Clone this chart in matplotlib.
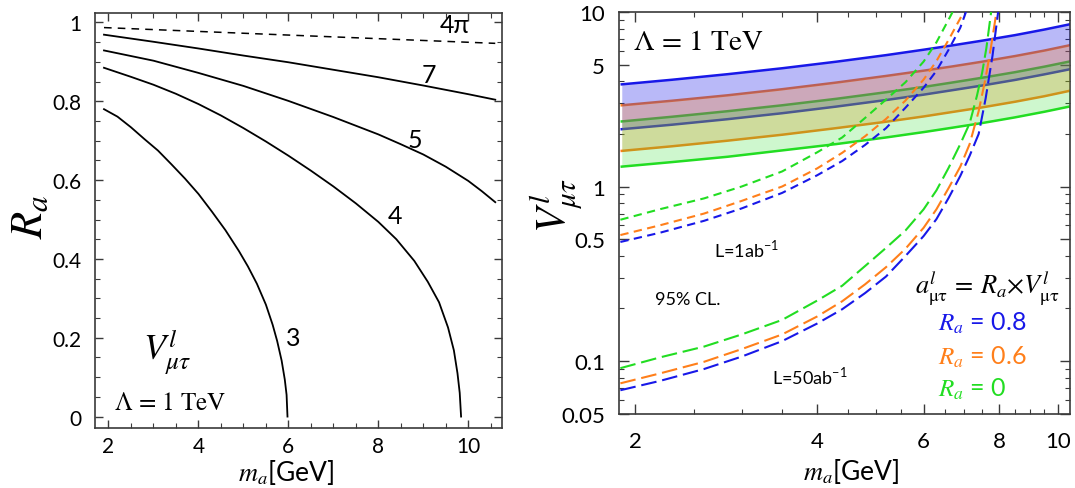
import numpy as np
import matplotlib
matplotlib.use("Agg")
import matplotlib.pyplot as plt
from matplotlib.ticker import FixedLocator, FixedFormatter, NullFormatter

plt.rcParams['font.family'] = ['Lato', 'DejaVu Sans']
plt.rcParams['mathtext.fontset'] = 'stix'

# ---------------- Left panel data (contours of V in (m_a, R_a)) ----------------
c4pi_x = [1.9, 6.0, 10.6]
c4pi_y = [0.987, 0.968, 0.947]
c7_x = [1.9, 3, 4, 5, 6, 7, 8, 9, 10, 10.6]
c7_y = [0.969, 0.951, 0.934, 0.916, 0.899, 0.880, 0.861, 0.840, 0.818, 0.804]
c5_x = [1.9, 3, 4, 5, 6, 7, 8, 8.5, 9, 9.5, 10, 10.3, 10.6]
c5_y = [0.929, 0.903, 0.872, 0.839, 0.801, 0.760, 0.716, 0.691, 0.665, 0.634, 0.598, 0.572, 0.544]
c4_x = [1.9, 2.5, 3.0, 3.5, 4.0, 4.5, 5.0, 5.5, 6.0, 6.5, 7.0, 7.5, 8.0, 8.4, 8.8,
        9.1, 9.35, 9.55, 9.68, 9.76, 9.81, 9.84]
c4_y = [0.885, 0.862, 0.842, 0.819, 0.793, 0.764, 0.732, 0.698, 0.662, 0.624, 0.584, 0.541, 0.494, 0.450, 0.395,
        0.342, 0.290, 0.226, 0.168, 0.110, 0.060, 0.0]
c3_x = [1.9, 2.2, 2.5, 2.8, 3.1, 3.4, 3.7, 4.0, 4.3, 4.6, 4.9, 5.1, 5.3, 5.5, 5.65,
        5.75, 5.85, 5.92, 5.96, 5.98]
c3_y = [0.780, 0.761, 0.734, 0.704, 0.675, 0.640, 0.604, 0.565, 0.520, 0.473, 0.420, 0.381, 0.337, 0.284, 0.233,
        0.192, 0.142, 0.094, 0.055, 0.0]
contour_labels = ["4π", "7", "5", "4", "3"]
label_x = [9.69, 9.13, 8.82, 8.36, 6.11]
label_y = [0.995, 0.869, 0.704, 0.509, 0.201]

# ---------------- Right panel data ----------------
band_x = [1.9, 2.3, 2.84, 3.5, 4.3, 5.2, 6.0, 6.68, 7.5, 8.5, 9.5, 10.45]
blue_hi = [3.85, 4.09, 4.40, 4.76, 5.19, 5.66, 6.08, 6.43, 6.85, 7.37, 7.93, 8.49]
orange_hi = [2.92, 3.10, 3.33, 3.61, 3.94, 4.30, 4.61, 4.87, 5.19, 5.59, 6.01, 6.44]
green_hi = [2.36, 2.51, 2.70, 2.92, 3.18, 3.47, 3.72, 3.94, 4.20, 4.52, 4.86, 5.20]
blue_lo = [2.13, 2.26, 2.43, 2.63, 2.87, 3.13, 3.36, 3.56, 3.79, 4.08, 4.39, 4.69]
orange_lo = [1.60, 1.70, 1.83, 1.98, 2.16, 2.35, 2.52, 2.67, 2.84, 3.06, 3.29, 3.53]
green_lo = [1.30, 1.38, 1.48, 1.61, 1.75, 1.91, 2.05, 2.17, 2.31, 2.49, 2.68, 2.87]

# L = 1 ab^-1 (short dashes)
s_green_x = [1.89, 2.2, 2.6, 3.0, 3.5, 4.0, 4.4, 4.8, 5.2, 5.6, 6.0, 6.3, 6.6, 6.70]
s_green_y = [0.645, 0.742, 0.855, 1.0, 1.22, 1.57, 1.91, 2.47, 3.15, 3.96, 5.2, 6.7, 9.05, 10.0]
s_orange_x = [1.89, 2.2, 2.6, 3.0, 3.5, 4.0, 4.4, 4.8, 5.2, 5.6, 6.0, 6.3, 6.6, 6.9, 6.98]
s_orange_y = [0.527, 0.60, 0.70, 0.827, 1.0, 1.27, 1.56, 1.94, 2.44, 3.11, 4.1, 5.23, 6.93, 9.2, 10.0]
s_blue_x = [1.89, 2.2, 2.6, 3.0, 3.5, 4.0, 4.4, 4.8, 5.2, 5.6, 6.0, 6.3, 6.6, 6.9, 7.05]
s_blue_y = [0.481, 0.544, 0.636, 0.749, 0.919, 1.16, 1.40, 1.73, 2.16, 2.83, 3.68, 4.6, 6.08, 8.13, 10.0]

# L = 50 ab^-1 (long dashes)
l_green_x = [1.89, 2.2, 2.6, 3.0, 3.5, 4.0, 4.4, 4.8, 5.2, 5.6, 6.0, 6.3, 6.6, 6.9, 7.15, 7.35, 7.5, 7.62, 7.76]
l_green_y = [0.091, 0.105, 0.121, 0.142, 0.172, 0.222, 0.270, 0.35, 0.445, 0.56, 0.74, 0.95, 1.28, 1.75, 2.3,
             3.3, 4.5, 6.2, 10.0]
l_orange_x = [1.89, 2.2, 2.6, 3.0, 3.5, 4.0, 4.4, 4.8, 5.2, 5.6, 6.0, 6.3, 6.6, 6.9, 7.15, 7.4, 7.6, 7.75, 7.92]
l_orange_y = [0.0745, 0.085, 0.099, 0.117, 0.142, 0.180, 0.220, 0.275, 0.345, 0.44, 0.58, 0.74, 0.98, 1.30,
              1.75, 2.7, 4.2, 6.2, 10.0]
l_blue_x = [1.89, 2.2, 2.6, 3.0, 3.5, 4.0, 4.4, 4.8, 5.2, 5.6, 6.0, 6.3, 6.6, 6.9, 7.15, 7.4, 7.6, 7.8, 7.97]
l_blue_y = [0.068, 0.077, 0.090, 0.106, 0.130, 0.164, 0.198, 0.245, 0.305, 0.40, 0.52, 0.65, 0.86, 1.15, 1.5,
            2.0, 3.2, 5.6, 10.0]

BLUE = '#1818e8'
ORANGE = '#ff7f1a'
GREEN = '#22dd22'
FRAME = '#3a3a3a'

W, H = 1075, 489
fig = plt.figure(figsize=(W / 100, H / 100), dpi=100)


def px_axes(l, t, r, b):
    return fig.add_axes([l / W, 1 - b / H, (r - l) / W, (b - t) / H])


def ftext(x, y, s, **kw):
    fig.text(x / W, 1 - y / H, s, **kw)


def style_frame(ax):
    for s in ax.spines.values():
        s.set_color(FRAME)
        s.set_linewidth(1.2)
    ax.tick_params(which='both', direction='in', top=True, right=True, color=FRAME)
    ax.tick_params(which='major', length=6, width=1.0)
    ax.tick_params(which='minor', length=3.5, width=0.8)


# ---------------- Left panel ----------------
axL = px_axes(95, 14, 502, 429)
axL.plot(c4pi_x, c4pi_y, color='black', lw=1.1, linestyle=(0, (5, 4)))
for xs, ys in [(c7_x, c7_y), (c5_x, c5_y), (c4_x, c4_y), (c3_x, c3_y)]:
    axL.plot(xs, ys, color='black', lw=1.3)
for t, x, y in zip(contour_labels, label_x, label_y):
    axL.text(x, y, t, fontsize=18, ha='center', va='center')
axL.text(3.3, 0.165, r'$V^{l}_{\mu\tau}$', fontsize=26, ha='center', va='center')
axL.text(3.37, 0.037, r'$\Lambda\,=\,1\ \mathrm{TeV}$', fontsize=18, ha='center', va='center')
axL.set_xlim(1.70, 10.75)
axL.set_ylim(-0.029, 1.024)
axL.xaxis.set_major_locator(FixedLocator([2, 4, 6, 8, 10]))
axL.xaxis.set_minor_locator(FixedLocator(np.arange(2.0, 10.75, 0.5)))
axL.yaxis.set_major_locator(FixedLocator([0, 0.2, 0.4, 0.6, 0.8, 1.0]))
axL.yaxis.set_minor_locator(FixedLocator(np.arange(0, 1.01, 0.05)))
axL.yaxis.set_major_formatter(FixedFormatter(['0', '0.2', '0.4', '0.6', '0.8', '1']))
style_frame(axL)
axL.tick_params(axis='both', which='major', labelsize=15)
axL.tick_params(axis='y', pad=10)
axL.tick_params(axis='x', pad=6)
ftext(30, 217, r'$R_a$', fontsize=32, rotation=90, ha='center', va='center')
ftext(286, 473, r'$m_a$[GeV]', fontsize=19, ha='center', va='center')

# ---------------- Right panel ----------------
axR = px_axes(619, 13, 1070, 415)
axR.set_xscale('log')
axR.set_yscale('log')
for hi, lo, c in [(blue_hi, blue_lo, BLUE), (orange_hi, orange_lo, ORANGE), (green_hi, green_lo, GREEN)]:
    axR.plot(band_x, hi, color=c, lw=1.8, zorder=2)
    axR.plot(band_x, lo, color=c, lw=1.8, zorder=2)
axR.fill_between(band_x, blue_lo, blue_hi, color=BLUE, alpha=0.30, lw=0, zorder=3)
axR.fill_between(band_x, orange_lo, orange_hi, color=ORANGE, alpha=0.28, lw=0, zorder=3)
axR.fill_between(band_x, green_lo, green_hi, color=GREEN, alpha=0.22, lw=0, zorder=3)

short = (0, (4, 2.6))
long_ = (0, (7.5, 2.8))
for xs, ys, c in [(s_green_x, s_green_y, GREEN), (s_orange_x, s_orange_y, ORANGE), (s_blue_x, s_blue_y, BLUE)]:
    axR.plot(xs, ys, color=c, lw=1.5, linestyle=short, zorder=4)
for xs, ys, c in [(l_green_x, l_green_y, GREEN), (l_orange_x, l_orange_y, ORANGE), (l_blue_x, l_blue_y, BLUE)]:
    axR.plot(xs, ys, color=c, lw=1.5, linestyle=long_, zorder=4)

axR.set_xlim(1.88, 10.48)
axR.set_ylim(0.0497, 10.0)
axR.xaxis.set_major_locator(FixedLocator([2, 4, 6, 8, 10]))
axR.xaxis.set_major_formatter(FixedFormatter(['2', '4', '6', '8', '10']))
axR.xaxis.set_minor_locator(FixedLocator([v for v in np.arange(2.0, 10.6, 0.5) if v not in (2, 4, 6, 8, 10)]))
axR.xaxis.set_minor_formatter(NullFormatter())
ymaj = [0.05, 0.1, 0.5, 1, 5, 10]
axR.yaxis.set_major_locator(FixedLocator(ymaj))
axR.yaxis.set_major_formatter(FixedFormatter(['0.05', '0.1', '0.5', '1', '5', '10']))
ymin = [0.06, 0.07, 0.08, 0.09, 0.2, 0.3, 0.4, 0.6, 0.7, 0.8, 0.9, 2, 3, 4, 6, 7, 8, 9]
axR.yaxis.set_minor_locator(FixedLocator(ymin))
axR.yaxis.set_minor_formatter(NullFormatter())
style_frame(axR)
axR.tick_params(axis='both', which='major', labelsize=16, length=7)
axR.tick_params(axis='y', pad=10)
axR.tick_params(axis='x', pad=12)
ftext(556, 205, r'$V^{l}_{\mu\tau}$', fontsize=30, rotation=90, ha='center', va='center')
ftext(851, 472, r'$m_a$[GeV]', fontsize=19, ha='center', va='center')

ftext(698, 42, r'$\Lambda\,=\,1\ \mathrm{TeV}$', fontsize=21, ha='center', va='center')
ftext(747, 250, r'L=1ab$^{\mathregular{-1}}$', fontsize=13, ha='center', va='center')
ftext(688, 300, '95% CL.', fontsize=13, ha='center', va='center')
ftext(810, 377, r'L=50ab$^{\mathregular{-1}}$', fontsize=13, ha='center', va='center')
ftext(987, 288, r'$a^{l}_{\mathrm{\mu\tau}}\,=\,R_a{\times}V^{l}_{\mathrm{\mu\tau}}$', fontsize=19,
      ha='center', va='center')
ftext(938, 323, r'$R_a$ = 0.8', fontsize=18, ha='left', va='center', color=BLUE)
ftext(938, 357, r'$R_a$ = 0.6', fontsize=18, ha='left', va='center', color=ORANGE)
ftext(938, 389, r'$R_a$ = 0', fontsize=18, ha='left', va='center', color=GREEN)

fig.savefig('out.png', dpi=100)
